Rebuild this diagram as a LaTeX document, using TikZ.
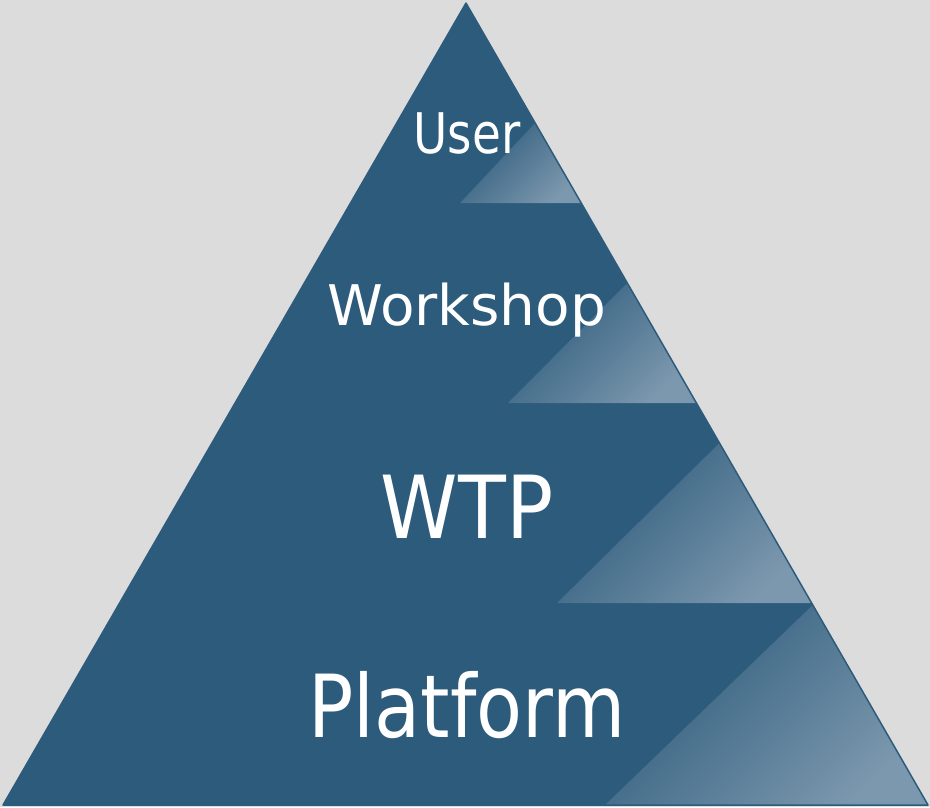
\documentclass[tikz,border=0pt]{standalone}
\usepackage{fontspec}
\newfontfamily\pyrfont{DejaVu Sans Condensed}
\usepackage{tikz}
\usetikzlibrary{calc}
\definecolor{pyrblue}{RGB}{45,91,123}
\definecolor{pyrlight}{RGB}{124,152,174}
\definecolor{pyrbg}{RGB}{220,220,220}

\begin{document}
\begin{tikzpicture}[x=1pt,y=-1pt]
        \tikzstyle{small}=[text=white, anchor=base, inner sep=0pt, font=\pyrfont\fontsize{56}{60}\selectfont]
        \tikzstyle{large}=[text=white, anchor=base, inner sep=0pt, font=\pyrfont\fontsize{87}{92}\selectfont]
        \tikzstyle{glow}=[top color=pyrblue, bottom color=pyrlight, shading angle=45]
        \fill [pyrbg] (0,0) rectangle (930,807);
        \coordinate (apex) at (466,3);
        \coordinate (bl) at (3,805);
        \coordinate (br) at (928,805);
        \fill [pyrblue] (apex) -- (br) -- (bl) -- cycle;
        % lighter wedge on the right of each layer
        \foreach \yb/\ytop/\xl in {203/123/460, 403/283/508, 603/443/557, 805/605/605} {
          \shade [glow] ($(apex)!{(\ytop-3)/802}!(br)$) -- ($(apex)!{(\yb-3)/802}!(br)$) -- (\xl,\yb) -- cycle;
        }
        \draw [pyrblue, line width=1.5pt, join=round] (apex) -- (br) -- (bl) -- cycle;
        \node [small] (user) at (467,153) {\scalebox{0.93}[1]{User}};
        \node [small] (workshop) at (467,325) {\scalebox{1.12}[1]{Workshop}};
        \node [large] (wtp) at (467,538) {WTP};
        \node [large] (platform) at (467,737) {\scalebox{0.96}[1]{Platform}};
\end{tikzpicture}
\end{document}
